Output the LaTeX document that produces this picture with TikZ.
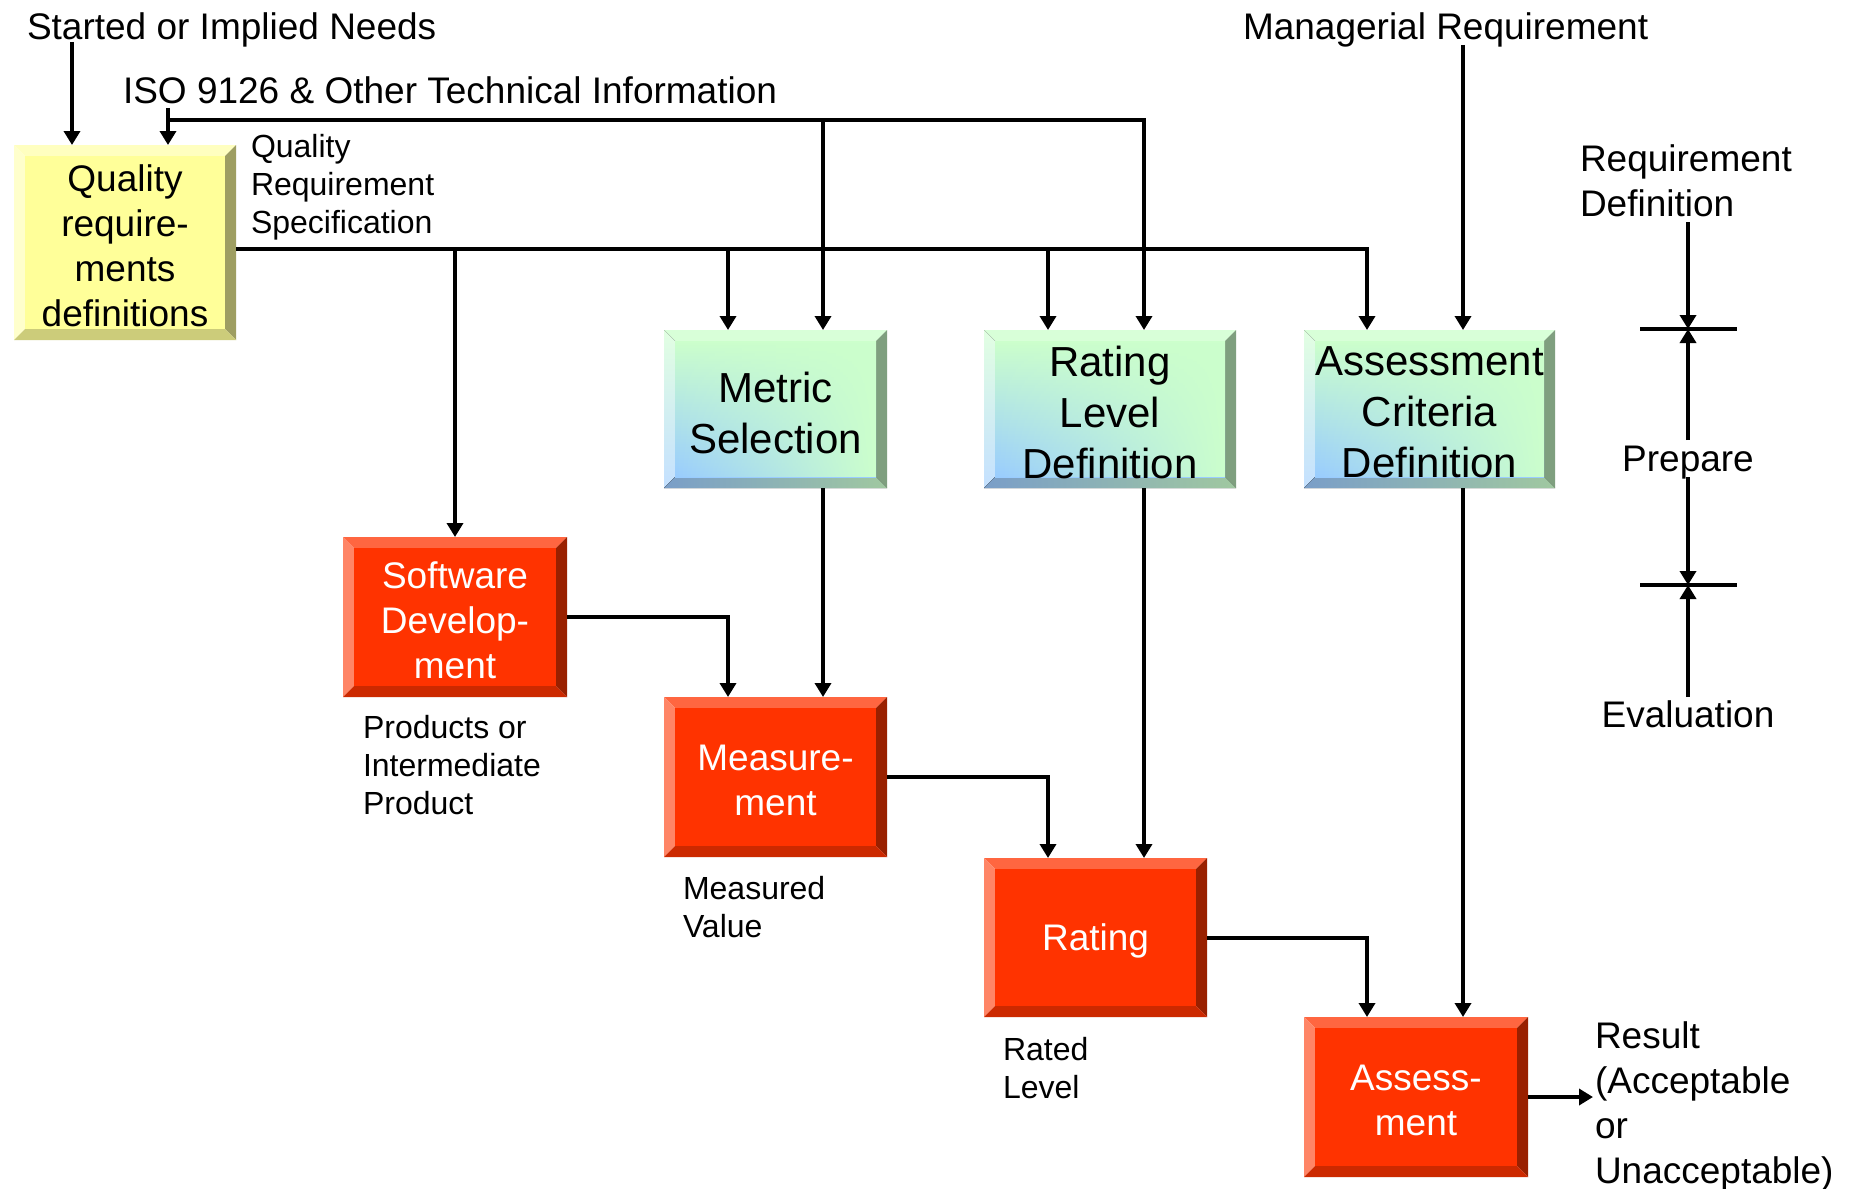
\documentclass[tikz,border=0pt]{standalone}
\usepackage{fontspec}
\setmainfont{Liberation Sans}
\usetikzlibrary{arrows.meta,fadings}
\definecolor{gTop}{HTML}{CCFFCC}
\definecolor{gBot}{HTML}{99CCFF}
\definecolor{gBevT}{HTML}{D8FFD8}
\definecolor{gBevL1}{HTML}{E2FFE2}
\definecolor{gBevL2}{HTML}{C4E0FF}
\definecolor{gBevR}{HTML}{7F9F7F}
\definecolor{gBevB1}{HTML}{7A9EC8}
\definecolor{gBevB2}{HTML}{A0C8A0}
\definecolor{rFace}{HTML}{FF3300}
\definecolor{rBevT}{HTML}{FF6640}
\definecolor{rBevL}{HTML}{FF8566}
\definecolor{rBevR}{HTML}{992000}
\definecolor{rBevB}{HTML}{CC2900}
\definecolor{yFace}{HTML}{FFFF99}
\definecolor{yBevT}{HTML}{FFFFC0}
\definecolor{yBevL}{HTML}{FFFFCC}
\definecolor{yBevR}{HTML}{9E9E62}
\definecolor{yBevB}{HTML}{CCCC7A}
\def\bv{11}
% name, kind, x1, y1, x2, y2, text
\newcommand{\bevbox}[7]{%
  \fill[#2top] (#3,#4) -- (#5,#4) -- ({#5-\bv},{#4+\bv}) -- ({#3+\bv},{#4+\bv}) -- cycle;
  \fill[#2left] (#3,#4) -- ({#3+\bv},{#4+\bv}) -- ({#3+\bv},{#6-\bv}) -- (#3,#6) -- cycle;
  \fill[#2right] (#5,#4) -- (#5,#6) -- ({#5-\bv},{#6-\bv}) -- ({#5-\bv},{#4+\bv}) -- cycle;
  \fill[#2bottom] (#3,#6) -- (#5,#6) -- ({#5-\bv},{#6-\bv}) -- ({#3+\bv},{#6-\bv}) -- cycle;
  \path[#2face] ({#3+\bv},{#4+\bv}) rectangle ({#5-\bv},{#6-\bv});
  \path[#2over] ({#3+\bv},{#4+\bv}) rectangle ({#5-\bv},{#6-\bv});
  \node[boxshape, minimum width={(#5-#3)*0.5pt}, minimum height={(#6-#4)*0.5pt}] (#1) at ({(#3+#5)/2},{(#4+#6)/2}) {};
  \node[#2text] (#1-t) at ({(#3+#5)/2},{(#4+#6)/2+3.5}) {#7};
}
\begin{document}
\begin{tikzpicture}[x=0.5pt,y=-0.5pt,
  ln/.style={line width=2pt},
  arr/.style={line width=2pt,-{Triangle[length=7pt,width=8pt]}},
  big/.style={font=\fontsize{18.5}{22.5}\selectfont, inner sep=0pt, outer sep=0pt, align=left},
  small/.style={font=\fontsize{16}{19}\selectfont, inner sep=0pt, outer sep=0pt, align=left},
  boxshape/.style={inner sep=0pt, outer sep=0pt},
  Gtop/.style={fill=gBevT},
  Gleft/.style={top color=gBevL1, bottom color=gBevL2},
  Gright/.style={fill=gBevR},
  Gbottom/.style={left color=gBevB1, right color=gBevB2},
  Gface/.style={top color=gTop, bottom color=gBot},
  Gover/.style={fill=gTop, path fading=west},
  Gtext/.style={font=\fontsize{21}{25.5}\selectfont, align=center, inner sep=0pt, outer sep=0pt},
  Rtop/.style={fill=rBevT},
  Rleft/.style={fill=rBevL},
  Rright/.style={fill=rBevR},
  Rbottom/.style={fill=rBevB},
  Rface/.style={fill=rFace},
  Rover/.style={},
  Rtext/.style={font=\fontsize{18.5}{22.5}\selectfont, align=center, text=white, inner sep=0pt, outer sep=0pt},
  Ytop/.style={fill=yBevT},
  Yleft/.style={fill=yBevL},
  Yright/.style={fill=yBevR},
  Ybottom/.style={fill=yBevB},
  Yface/.style={fill=yFace},
  Yover/.style={},
  Ytext/.style={font=\fontsize{18.5}{22.5}\selectfont, align=center, inner sep=0pt, outer sep=0pt},
]
\useasboundingbox[fill=white] (0,0) rectangle (1850,1188);

% boxes
\bevbox{qrd}{Y}{14}{145}{236}{340}{Quality\\require-\\ments\\definitions}
\bevbox{ms}{G}{664}{330}{887}{488}{Metric\\Selection}
\bevbox{rl}{G}{984}{330}{1236}{488}{Rating\\Level\\Definition}
\bevbox{acd}{G}{1304}{330}{1555}{488}{Assessment\\Criteria\\Definition}
\bevbox{sd}{R}{343}{537}{567}{697}{Software\\Develop-\\ment}
\bevbox{me}{R}{664}{697}{887}{857}{Measure-\\ment}
\bevbox{rt}{R}{984}{858}{1207}{1017}{Rating}
\bevbox{asm}{R}{1304}{1017}{1528}{1177}{Assess-\\ment}

% labels
\node[big, anchor=base west] (st) at (27,40) {Started or Implied Needs};
\node[big, anchor=base west] (iso) at (123,104) {ISO 9126 \& Other Technical Information};
\node[big, anchor=base west] (mr) at (1243,40) {Managerial Requirement};
\node[small, anchor=north west] (qrs) at (251,134) {Quality\\Requirement\\Specification};
\node[small, anchor=north west] (pip) at (363,715) {Products or\\Intermediate\\Product};
\node[small, anchor=north west] (mv) at (683,876) {Measured\\Value};
\node[small, anchor=north west] (rlv) at (1003,1037) {Rated\\Level};
\node[big, anchor=north west] (res) at (1595,1022) {Result\\(Acceptable\\or\\Unacceptable)};
\node[big, anchor=north west] (rd) at (1580,145) {Requirement\\Definition};
\node[big, anchor=base] (pr) at (1688,471) {Prepare};
\node[big, anchor=base] (ev) at (1688,727) {Evaluation};

% column / row coordinates
\coordinate (x168) at (168,0);
\coordinate (x455) at (455,0);
\coordinate (x728) at (728,0);
\coordinate (x823) at (823,0);
\coordinate (x1048) at (1048,0);
\coordinate (x1144) at (1144,0);
\coordinate (x1367) at (1367,0);
\coordinate (x1463) at (1463,0);
\coordinate (x1593) at (1593,0);
\coordinate (yiso) at (0,120);
\coordinate (ybus) at (0,249);
\coordinate (stA) at (72,42);
\coordinate (isoA) at (168,108);
\coordinate (mrA) at (1463,45);

% inputs
\draw[arr] (stA) -- (stA |- qrd.north);
\draw[arr] (isoA) -- (isoA |- qrd.north);
\draw[arr] (x168 |- yiso) -| (x1144 |- rl.north);
\draw[arr] (x823 |- yiso) -- (x823 |- ms.north);
\draw[arr] (mrA) -- (mrA |- acd.north);

% quality requirement specification bus
\draw[arr] (qrd.east |- ybus) -| (x1367 |- acd.north);
\draw[arr] (x455 |- ybus) -- (x455 |- sd.north);
\draw[arr] (x728 |- ybus) -- (x728 |- ms.north);
\draw[arr] (x1048 |- ybus) -- (x1048 |- rl.north);

% flow
\draw[arr] (x823 |- ms.south) -- (x823 |- me.north);
\draw[arr] (sd.east) -| (x728 |- me.north);
\draw[arr] (me.east) -| (x1048 |- rt.north);
\draw[arr] (x1144 |- rl.south) -- (x1144 |- rt.north);
\draw[arr] (rt.east) -| (x1367 |- asm.north);
\draw[arr] (x1463 |- acd.south) -- (x1463 |- asm.north);
\draw[arr] (asm.east) -- (asm.east -| x1593);

% phase markers
\coordinate (t1a) at (1640,329);
\coordinate (t1b) at (1737,329);
\coordinate (t2a) at (1640,585);
\coordinate (t2b) at (1737,585);
\coordinate (m1) at (1688,329);
\coordinate (m2) at (1688,585);
\coordinate (r1) at (1688,222);
\coordinate (r2) at (1688,440);
\coordinate (r3) at (1688,477);
\coordinate (r4) at (1688,697);
\draw[ln] (t1a) -- (t1b);
\draw[ln] (t2a) -- (t2b);
\draw[arr] (r1) -- (m1);
\draw[arr] (r2) -- (m1);
\draw[arr] (r3) -- (m2);
\draw[arr] (r4) -- (m2);
\end{tikzpicture}
\end{document}
